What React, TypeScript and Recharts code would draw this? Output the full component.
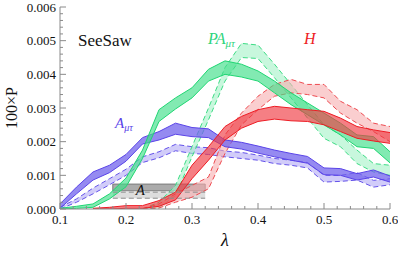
import { Area, ComposedChart, ReferenceArea, ReferenceLine, XAxis, YAxis } from "recharts";

// lambda grid (x), values in units of 1e-3 (100×P)
const lambda = [0.1, 0.125, 0.15, 0.175, 0.2, 0.225, 0.25, 0.275, 0.3, 0.325, 0.35, 0.375, 0.4, 0.425, 0.45, 0.475, 0.5, 0.525, 0.55, 0.575, 0.6];

const aSolidHi = [0.15, 0.65, 1.1, 1.3, 1.62, 2.12, 2.3, 2.55, 2.42, 2.38, 2.05, 1.98, 1.87, 1.75, 1.65, 1.56, 1.22, 1.2, 1.05, 1.16, 0.98];
const aSolidLo = [0.02, 0.45, 0.86, 1.08, 1.42, 1.93, 2.05, 2.22, 2.15, 2.12, 1.85, 1.78, 1.66, 1.55, 1.45, 1.36, 1.02, 1.0, 0.86, 0.95, 0.8];
const aDashHi = [0.05, 0.3, 0.62, 0.9, 1.18, 1.55, 1.7, 1.92, 1.85, 1.82, 1.72, 1.68, 1.6, 1.5, 1.45, 1.38, 1.0, 1.0, 1.08, 0.85, 0.9];
const aDashLo = [0.0, 0.2, 0.45, 0.72, 1.0, 1.38, 1.52, 1.73, 1.65, 1.62, 1.55, 1.5, 1.45, 1.35, 1.3, 1.22, 0.8, 0.82, 0.86, 0.65, 0.72];

const paSolidHi = [0.02, 0.08, 0.15, 0.45, 0.92, 1.75, 2.95, 3.3, 3.6, 4.15, 4.4, 4.3, 4.1, 3.8, 3.45, 3.15, 2.85, 2.55, 2.2, 2.15, 1.7];
const paSolidLo = [0.0, 0.02, 0.05, 0.3, 0.66, 1.5, 2.6, 2.97, 3.3, 3.8, 4.0, 3.92, 3.8, 3.45, 3.1, 2.8, 2.5, 2.2, 1.85, 1.8, 1.37];
const paDashHi = [null, null, null, null, null, 0.0, 0.2, 0.7, 1.85, 3.0, 4.2, 4.92, 4.87, 4.3, 3.7, 3.1, 2.5, 2.2, 1.75, 1.35, 1.3];
const paDashLo = [null, null, null, null, null, 0.0, 0.03, 0.4, 1.55, 2.65, 3.8, 4.5, 4.47, 3.9, 3.3, 2.7, 2.1, 1.85, 1.35, 1.1, 1.0];

const hSolidHi = [null, null, 0.02, 0.05, 0.1, 0.1, 0.25, 0.5, 1.3, 1.85, 2.45, 2.75, 2.95, 3.05, 3.0, 2.95, 2.9, 2.7, 2.45, 2.35, 2.27];
const hSolidLo = [null, null, 0.0, 0.0, 0.02, 0.02, 0.08, 0.27, 0.9, 1.45, 2.05, 2.4, 2.6, 2.67, 2.62, 2.6, 2.5, 2.3, 2.1, 2.02, 1.95];
const hDashHi = [null, null, null, null, null, 0.0, 0.15, 0.45, 0.7, 0.95, 2.2, 2.85, 3.35, 3.7, 3.85, 3.7, 3.7, 3.2, 2.95, 2.55, 2.45];
const hDashLo = [null, null, null, null, null, 0.0, 0.03, 0.2, 0.35, 0.6, 1.65, 2.5, 2.95, 3.35, 3.45, 3.4, 3.3, 2.85, 2.55, 2.3, 2.0];

// grey "A" bands: [x1, x2] and [lo, hi]
const aBandX = [0.18, 0.32];
const aBandSolid = [0.54, 0.74];
const aBandDash = [0.32, 0.5];

const xMajor = [0.1, 0.2, 0.3, 0.4, 0.5, 0.6];
const xMajorLabels = ["0.1", "0.2", "0.3", "0.4", "0.5", "0.6"];
const yMajor = [0, 1, 2, 3, 4, 5, 6];
const yMajorLabels = ["0.000", "0.001", "0.002", "0.003", "0.004", "0.005", "0.006"];

const xTicks = Array.from({ length: 26 }, (_, i) => 0.1 + i * 0.02);
const yTicks = Array.from({ length: 31 }, (_, i) => i * 0.2);

const pair = (lo: (number | null)[], hi: (number | null)[], i: number) =>
  lo[i] == null || hi[i] == null ? null : [lo[i], hi[i]];

const data = lambda.map((lam, i) => ({
  lam,
  aSolid: pair(aSolidLo, aSolidHi, i),
  aDash: pair(aDashLo, aDashHi, i),
  paSolid: pair(paSolidLo, paSolidHi, i),
  paDash: pair(paDashLo, paDashHi, i),
  hSolid: pair(hSolidLo, hSolidHi, i),
  hDash: pair(hDashLo, hDashHi, i)
}));

const frame = "#8a8a8a";
const serifFamily = "'Liberation Serif', 'DejaVu Serif', 'Times New Roman', Times, serif";

const majorIndex = (v: number, majors: number[]) => majors.findIndex((m) => Math.abs(m - v) < 1e-6);

const BottomTick = ({ x, y, payload }: any) => {
  const k = majorIndex(payload.value, xMajor);
  return (
    <g>
      <line x1={x} x2={x} y1={y} y2={y - (k >= 0 ? 6 : 3)} stroke={frame} />
      {k >= 0 && (
        <text x={x} y={y + 15} textAnchor="middle" fontSize={13} fill="#111">
          {xMajorLabels[k]}
        </text>
      )}
    </g>
  );
};

const TopTick = ({ x, y, payload }: any) => {
  const k = majorIndex(payload.value, xMajor);
  return <line x1={x} x2={x} y1={y} y2={y + (k >= 0 ? 6 : 3)} stroke={frame} />;
};

const LeftTick = ({ x, y, payload }: any) => {
  const k = majorIndex(payload.value, yMajor);
  return (
    <g>
      <line x1={x} x2={x + (k >= 0 ? 6 : 3)} y1={y} y2={y} stroke={frame} />
      {k >= 0 && (
        <text x={x - 4} y={y + 4.5} textAnchor="end" fontSize={13} fill="#111">
          {yMajorLabels[k]}
        </text>
      )}
    </g>
  );
};

const RightTick = ({ x, y, payload }: any) => {
  const k = majorIndex(payload.value, yMajor);
  return <line x1={x} x2={x - (k >= 0 ? 6 : 3)} y1={y} y2={y} stroke={frame} />;
};

export default function App() {
  return (
    <div style={{ position: "absolute", left: 0, top: 0, background: "#fff", fontFamily: serifFamily }}>
      <style>{`svg text { font-family: ${serifFamily}; }`}</style>
      <ComposedChart width={398} height={254} data={data} margin={{ top: 7, right: 8, left: 0, bottom: 0 }} style={{ fontFamily: serifFamily }}>
        <XAxis
          dataKey="lam"
          type="number"
          domain={[0.1, 0.6]}
          allowDataOverflow
          ticks={xTicks}
          interval={0}
          tickSize={0}
          tickMargin={0}
          tickLine={false}
          tick={BottomTick}
          height={45}
          stroke={frame}
        />
        <XAxis
          xAxisId="top"
          orientation="top"
          type="number"
          domain={[0.1, 0.6]}
          allowDataOverflow
          ticks={xTicks}
          interval={0}
          tickSize={0}
          tickMargin={0}
          tickLine={false}
          tick={TopTick}
          height={0}
          stroke={frame}
        />
        <YAxis
          type="number"
          domain={[0, 6]}
          allowDataOverflow
          ticks={yTicks}
          interval={0}
          tickSize={0}
          tickMargin={0}
          tickLine={false}
          tick={LeftTick}
          width={60}
          stroke={frame}
        />
        <YAxis
          yAxisId="right"
          orientation="right"
          type="number"
          domain={[0, 6]}
          allowDataOverflow
          ticks={yTicks}
          interval={0}
          tickSize={0}
          tickMargin={0}
          tickLine={false}
          tick={RightTick}
          width={0}
          stroke={frame}
        />

        <ReferenceArea x1={aBandX[0]} x2={aBandX[1]} y1={aBandDash[0]} y2={aBandDash[1]} fill="#cfcfcf" fillOpacity={0.7} stroke="none" ifOverflow="visible" />
        <ReferenceLine segment={[{ x: aBandX[0], y: aBandDash[0] }, { x: aBandX[1], y: aBandDash[0] }]} stroke="#8c8c8c" strokeDasharray="5 3" />
        <ReferenceLine segment={[{ x: aBandX[0], y: aBandDash[1] }, { x: aBandX[1], y: aBandDash[1] }]} stroke="#8c8c8c" strokeDasharray="5 3" />
        <ReferenceArea
          x1={aBandX[0]}
          x2={aBandX[1]}
          y1={aBandSolid[0]}
          y2={aBandSolid[1]}
          fill="#8f8f8f"
          fillOpacity={0.75}
          stroke="#7a7a7a"
          ifOverflow="visible"
          label={{ value: "A", position: "insideLeft", offset: 23, fill: "#111", fontSize: 15, fontStyle: "italic", dy: 2 }}
        />

        <Area type="linear" dataKey="aDash" stroke="#6452ea" strokeDasharray="5 3" strokeWidth={1} fill="#b9b1f6" fillOpacity={0.65} isAnimationActive={false} dot={false} activeDot={false} />
        <Area type="linear" dataKey="paDash" stroke="#3ddc85" strokeDasharray="5 3" strokeWidth={1} fill="#a4f1c6" fillOpacity={0.6} isAnimationActive={false} dot={false} activeDot={false} />
        <Area type="linear" dataKey="hDash" stroke="#ee4a50" strokeDasharray="5 3" strokeWidth={1} fill="#f7adaf" fillOpacity={0.6} isAnimationActive={false} dot={false} activeDot={false} />
        <Area type="linear" dataKey="aSolid" stroke="#5a44e8" strokeWidth={1} fill="#7263ec" fillOpacity={0.75} isAnimationActive={false} dot={false} activeDot={false} />
        <Area type="linear" dataKey="paSolid" stroke="#20d673" strokeWidth={1} fill="#3fdf88" fillOpacity={0.65} isAnimationActive={false} dot={false} activeDot={false} />
        <Area type="linear" dataKey="hSolid" stroke="#ee1c24" strokeWidth={1} fill="#f03a42" fillOpacity={0.65} isAnimationActive={false} dot={false} activeDot={false} />

        <text x={78} y={46} fontSize={17} fill="#111">SeeSaw</text>
        <text x={208} y={44} fontSize={16} fontStyle="italic" fill="#2ed47c">
          PA<tspan fontSize={11} dy={3}>μτ</tspan>
        </text>
        <text x={304} y={44} fontSize={16} fontStyle="italic" fill="#ee1c24">H</text>
        <text x={115} y={128} fontSize={15} fontStyle="italic" fill="#5a44e8">
          A<tspan fontSize={10} dy={3}>μτ</tspan>
        </text>
        <text x={225} y={246} fontSize={18} fontStyle="italic" fill="#111" textAnchor="middle">λ</text>
        <text x={0} y={0} transform="translate(17,108) rotate(-90)" fontSize={16} fill="#111" textAnchor="middle">100×P</text>
      </ComposedChart>
    </div>
  );
}
